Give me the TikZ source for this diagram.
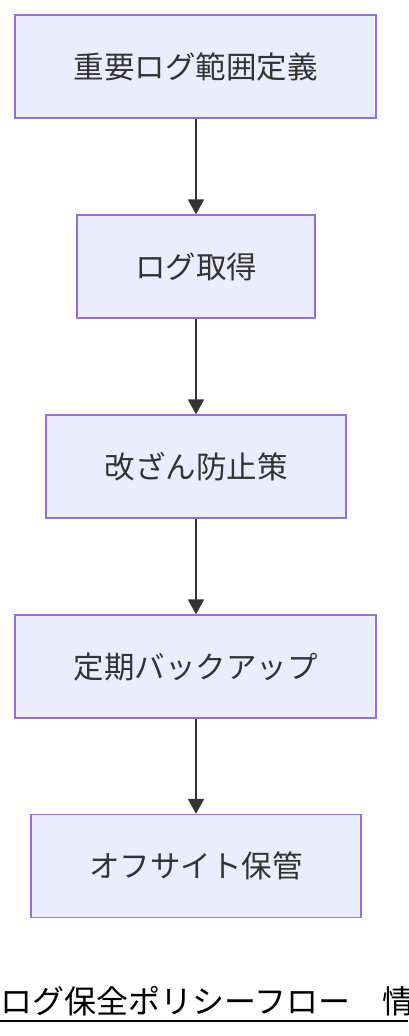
\documentclass[tikz,border=0pt]{standalone}
\usepackage{fontspec}
\usepackage{tikz}
\usetikzlibrary{arrows.meta}
\newfontfamily\jp{Noto Sans CJK JP}
\definecolor{boxfill}{HTML}{ECECFF}
\definecolor{boxline}{HTML}{9370DB}
\definecolor{ink}{HTML}{333333}
\tikzset{
  stepbox/.style={draw=boxline, fill=boxfill, line width=1.4pt, minimum height=103pt,
    inner sep=0pt, text=ink, font=\jp\fontsize{30.5}{35}\selectfont},
  flow/.style={draw=ink, line width=2pt, -{Triangle[length=15pt,width=16pt]}},
  titletext/.style={text=black, font=\jp\fontsize{32}{36}\selectfont, inner sep=0pt, anchor=base west},
}
\begin{document}
\begin{tikzpicture}[x=1pt,y=-1pt]
  \useasboundingbox (0,0) rectangle (408,1036);
  \node[stepbox, minimum width=361pt] (scope) at (195.5,66.5) {重要ログ範囲定義};
  \node[stepbox, minimum width=238pt] (collect) at (196,266.5) {ログ取得};
  \node[stepbox, minimum width=300pt] (guard) at (196,466.5) {改ざん防止策};
  \node[stepbox, minimum width=361pt] (backup) at (195.5,666.5) {定期バックアップ};
  \node[stepbox, minimum width=330pt] (offsite) at (196,866) {オフサイト保管};
  \foreach \a/\b in {scope/collect,collect/guard,guard/backup,backup/offsite}
    \draw[flow] (\a.south -| 196,0) -- (\b.north -| 196,0);
  % caption, cut at the right edge
  \begin{scope}
    \clip (0,0) rectangle (408,1036);
    \node[titletext] (title) at (0,1013) {ログ保全ポリシーフロー　情};
    \draw[black, line width=2pt] (0,1021) -- (408,1021);
  \end{scope}
\end{tikzpicture}
\end{document}
